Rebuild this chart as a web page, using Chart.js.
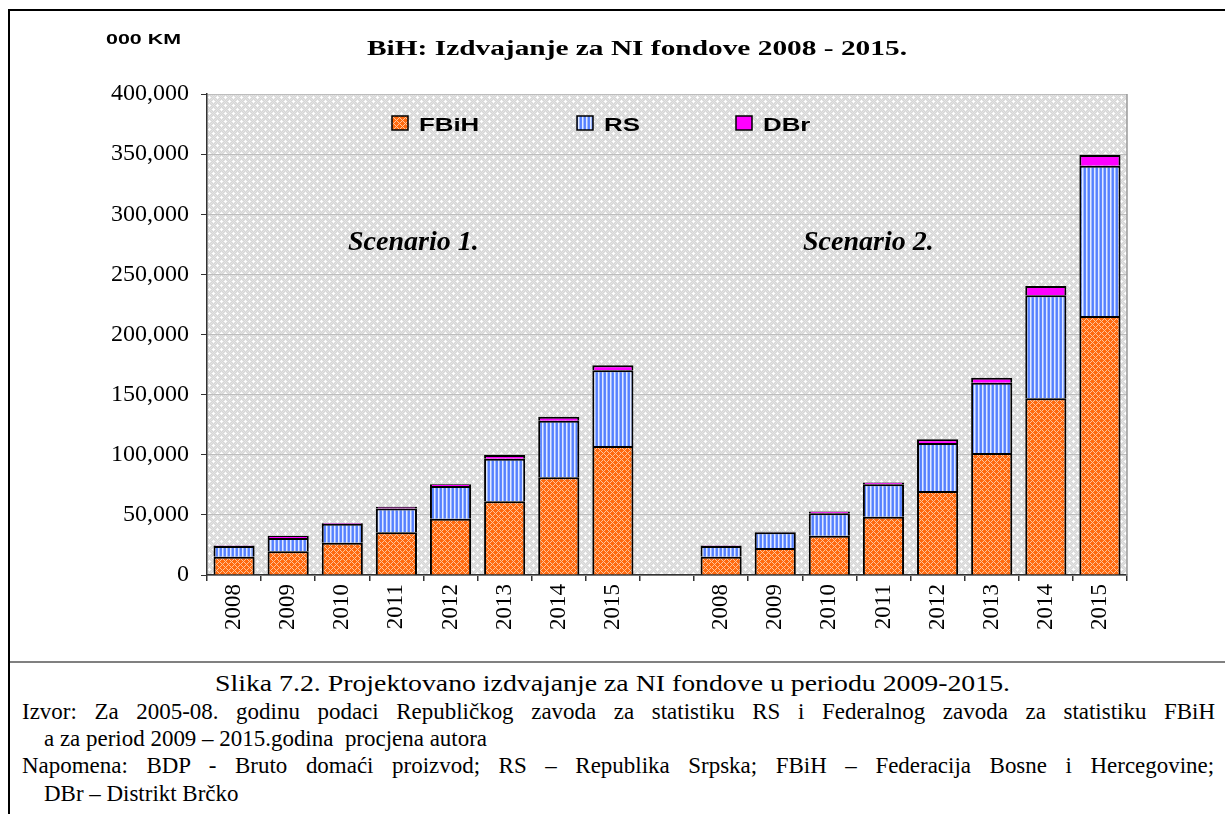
<!DOCTYPE html>
<html>
<head>
<meta charset="utf-8">
<script src="https://cdn.jsdelivr.net/npm/chart.js@4.4.0/dist/chart.umd.min.js"></script>
<style>
body{margin:0;background:#fff;width:1225px;height:814px;overflow:hidden;position:relative;font-family:"Liberation Serif","Times New Roman",serif;}
#frame{position:absolute;left:8px;top:9px;width:1300px;height:900px;border-left:2px solid #000;border-top:2px solid #000;}
#sep{position:absolute;left:10px;top:661px;width:1215px;height:2px;background:#808080;}
#chart{position:absolute;left:0;top:0;}
.cap{position:absolute;font-size:23px;white-space:nowrap;transform-origin:0 50%;line-height:27px;color:#000;}
</style>
</head>
<body>
<div id="frame"></div>
<canvas id="chart" width="1225" height="660"></canvas>
<div id="sep"></div>
<div class="cap" id="c1" style="top:670px">Slika 7.2. Projektovano izdvajanje za NI fondove u periodu 2009-2015.</div>
<div class="cap" id="c2" style="top:698px;left:22px">Izvor: Za 2005-08. godinu podaci Republičkog zavoda za statistiku RS i Federalnog zavoda za statistiku FBiH</div>
<div class="cap" id="c3" style="top:725px;left:44px">a za period 2009 – 2015.godina&nbsp; procjena autora</div>
<div class="cap" id="c4" style="top:752px;left:22px">Napomena: BDP - Bruto domaći proizvod; RS – Republika Srpska; FBiH – Federacija Bosne i Hercegovine;</div>
<div class="cap" id="c5" style="top:780px;left:44px">DBr – Distrikt Brčko</div>
<script>
// values in 000 KM
const years = ['2008', '2009', '2010', '2011', '2012', '2013', '2014', '2015'];

const fbihS1 = [15200, 19700, 26900, 35500, 46800, 61300, 81200, 107300];
const rsS1   = [8900, 11100, 15800, 19700, 27200, 35400, 47100, 63000];
const dbrS1  = [500, 1800, 600, 1600, 1500, 3000, 3200, 4200];

const fbihS2 = [15200, 22500, 32700, 48500, 69900, 101500, 146900, 215400];
const rsS2   = [8900, 13000, 18600, 26900, 39900, 58400, 85700, 125000];
const dbrS2  = [500, 500, 1600, 1600, 3000, 4100, 7700, 8900];

const yTicks = [0, 50000, 100000, 150000, 200000, 250000, 300000, 350000, 400000];

const chartTitle = 'BiH: Izdvajanje za NI fondove 2008 - 2015.';
const unitLabel = '000 KM';
const scenarioLabels = ['Scenario 1.', 'Scenario 2.'];

const SERIF = '"Liberation Serif", "Times New Roman", serif';
const SANS = '"Liberation Sans", Arial, sans-serif';

// one empty category between the two scenarios
const labels = [...years, '', ...years];
const fbih = [...fbihS1, null, ...fbihS2];
const rs = [...rsS1, null, ...rsS2];
const dbr = [...dbrS1, null, ...dbrS2];

function makePattern(w, h, draw) {
    const c = document.createElement('canvas');
    c.width = w;
    c.height = h;
    const g = c.getContext('2d');
    draw(g, w, h);
    return g.createPattern(c, 'repeat');
}

function px(g, x, y, col) {
    g.fillStyle = col;
    g.fillRect(x, y, 1, 1);
}

// grey dotted plot background
const bgPattern = makePattern(8, 8, (g, w, h) => {
    g.fillStyle = '#d6d6d6';
    g.fillRect(0, 0, w, h);
    for (let x = 0; x < w; x++) {
        for (let y = 0; y < h; y++) {
            if ((x + y) % 2 === 0) px(g, x, y, '#e3e3e3');
        }
    }
    [[1, 1], [5, 5]].forEach(([cx, cy]) => {
        [[0, 0], [1, 0], [-1, 0], [0, 1], [0, -1]].forEach(([dx, dy]) => {
            px(g, (cx + dx + w) % w, (cy + dy + h) % h, '#ffffff');
        });
    });
});

// orange lattice for FBiH
const fbihPattern = makePattern(6, 6, (g, w, h) => {
    g.fillStyle = '#ff6a0f';
    g.fillRect(0, 0, w, h);
    for (let x = 0; x < w; x++) {
        for (let y = 0; y < h; y++) {
            if ((x + y) % 6 === 0 || (x - y + 6) % 6 === 0) px(g, x, y, '#ffc49a');
        }
    }
});

// vertical stripes for RS
const rsPattern = makePattern(4, 1, (g) => {
    px(g, 0, 0, '#5580ff');
    px(g, 1, 0, '#5f88ff');
    px(g, 2, 0, '#e2e9ff');
    px(g, 3, 0, '#9db8ff');
});

const dbrColor = '#ff00ff';

function stretchText(ctx, text, x, y, font, width) {
    ctx.save();
    ctx.font = font;
    const w = ctx.measureText(text).width;
    ctx.translate(x, y);
    ctx.scale(width / w, 1);
    ctx.fillText(text, 0, 0);
    ctx.restore();
}

const decorPlugin = {
    id: 'decor',
    beforeDraw(chart) {
        const { ctx, chartArea: a } = chart;
        ctx.save();
        ctx.fillStyle = bgPattern;
        ctx.fillRect(a.left, a.top, a.right - a.left, a.bottom - a.top);
        ctx.restore();
    },
    afterDraw(chart) {
        const { ctx, chartArea: a } = chart;
        ctx.save();
        // right edge of plot area
        ctx.strokeStyle = '#9a9a9a';
        ctx.lineWidth = 1.5;
        ctx.beginPath();
        ctx.moveTo(a.right, a.top);
        ctx.lineTo(a.right, a.bottom);
        ctx.stroke();

        ctx.fillStyle = '#000';
        ctx.textBaseline = 'alphabetic';
        stretchText(ctx, unitLabel, 106, 44, 'bold 15px ' + SANS, 75);
        stretchText(ctx, chartTitle, 367, 55, 'bold 20px ' + SERIF, 540);

        ctx.font = 'italic bold 28px ' + SERIF;
        ctx.fillText(scenarioLabels[0], 348, 250);
        ctx.fillText(scenarioLabels[1], 803, 250);

        // legend inside the plot
        const legendX = [392, 577, 736];
        chart.data.datasets.forEach((ds, i) => {
            const x = legendX[i];
            ctx.fillStyle = ds.backgroundColor;
            ctx.fillRect(x, 116, 16, 14);
            ctx.strokeStyle = '#000';
            ctx.lineWidth = 1.5;
            ctx.strokeRect(x, 116, 16, 14);
            ctx.fillStyle = '#000';
            ctx.save();
            ctx.font = 'bold 19px ' + SANS;
            ctx.translate(x + 27, 131);
            ctx.scale(1.36, 1);
            ctx.fillText(ds.label, 0, 0);
            ctx.restore();
        });
        ctx.restore();
    }
};

const ctx = document.getElementById('chart').getContext('2d');
const chart = new Chart(ctx, {

    type: 'bar',

    data: {

        labels: labels,

        datasets: [
            {
                label: 'FBiH',
                data: fbih,
                backgroundColor: fbihPattern,
                borderColor: '#000',
                borderWidth: 2
            },
            {
                label: 'RS',
                data: rs,
                backgroundColor: rsPattern,
                borderColor: '#000',
                borderWidth: 2
            },
            {
                label: 'DBr',
                data: dbr,
                backgroundColor: dbrColor,
                borderColor: '#000',
                borderWidth: 2
            }
        ]
    },
    options: {
        responsive: false,
        animation: false,
        devicePixelRatio: 1,
        layout: { padding: { left: 100, top: 94, right: 98, bottom: 0 } },
        datasets: {
            bar: { barPercentage: 0.76, categoryPercentage: 1 }
        },
        plugins: {
            legend: { display: false },
            tooltip: { enabled: false }
        },
        scales: {
            x: {
                stacked: true,
                afterFit: (scale) => { scale.height = 85; },
                grid: { drawOnChartArea: false, tickLength: 6, tickColor: '#333', lineWidth: 1.5 },
                border: { color: '#333', width: 1.5 },
                ticks: {
                    autoSkip: false,
                    minRotation: 90,
                    maxRotation: 90,
                    padding: 3,
                    color: '#000',
                    font: { family: SERIF, size: 23 }
                }
            },
            y: {
                stacked: true,
                min: 0,
                max: 400000,
                afterFit: (scale) => { scale.width = 107; },
                afterBuildTicks: (scale) => { scale.ticks = yTicks.map(v => ({ value: v })); },
                grid: { color: '#bdbdbd', lineWidth: 1, tickLength: 6, tickColor: '#333' },
                border: { color: '#333', width: 1.5 },
                ticks: {
                    padding: 12,
                    color: '#000',
                    font: { family: SERIF, size: 24 },
                    callback: (v) => v.toLocaleString('en-US')
                }
            }
        }
    },
    plugins: [decorPlugin]
});

// caption: line 1 centred, lines 2 and 4 justified to the full width
const m = document.createElement('canvas').getContext('2d');
m.font = '23px ' + SERIF;
const el = (id) => document.getElementById(id);
const textW = (id) => m.measureText(el(id).textContent).width;
const s1 = 795 / textW('c1');
el('c1').style.transform = `scaleX(${s1})`;
el('c1').style.left = (612 - 795 / 2) + 'px';
const s = 443 / textW('c3');
['c2', 'c3', 'c4', 'c5'].forEach(id => {
    el(id).style.transform = `scaleX(${s})`;
});
['c2', 'c4'].forEach(id => {
    const spaces = el(id).textContent.split(' ').length - 1;
    const extra = (1193 / s - textW(id)) / spaces;
    el(id).style.wordSpacing = extra + 'px';
});
</script>
</body>
</html>
